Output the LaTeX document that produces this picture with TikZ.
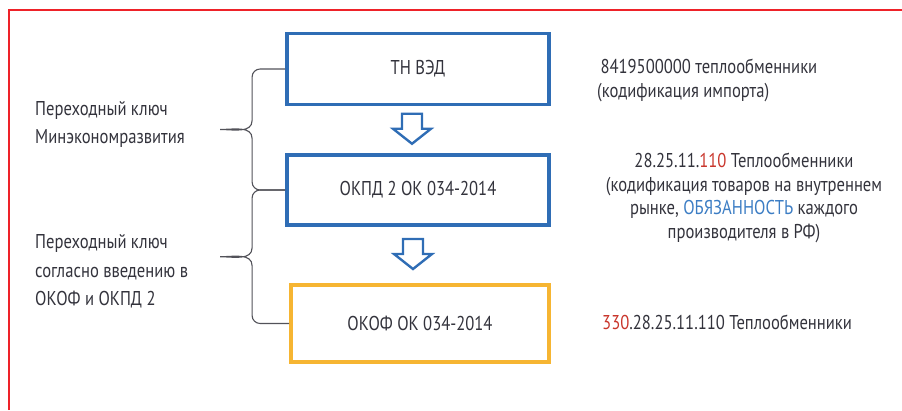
\documentclass[tikz,border=0pt]{standalone}
\usepackage{fontspec}
\setmainfont{PT Sans}[FakeStretch = 0.83]
\usetikzlibrary{calc}

\definecolor{frame}{HTML}{EE2229}
\definecolor{boxblue}{HTML}{2F6DB5}
\definecolor{boxyellow}{HTML}{F6B532}
\definecolor{txt}{HTML}{33333C}
\definecolor{codered}{HTML}{C9362C}
\definecolor{codeblue}{HTML}{3C7DC4}

\tikzset{
    box/.style = {draw, line width = 3.8pt, minimum width = 262, minimum height = 71, inner sep = 0pt, text = txt},
    bluebox/.style = {box, draw = boxblue},
    yellowbox/.style = {box, draw = boxyellow, minimum width = 258, minimum height = 77},
    note/.style = {text = txt, inner sep = 0pt, font = \fontsize{20}{23.5}\selectfont},
    keybrace/.style = {draw = txt!85, line width = 1.1pt},
    downarrow/.style = {draw = boxblue, line width = 2.4pt, line join = miter}
}

\begin{document}
\begin{tikzpicture}[x = 1pt, y = 1pt, font = \fontsize{20}{23.5}\selectfont]
    \useasboundingbox (0, 0) rectangle (902, 410);
    \draw[frame, line width = 2.2pt] (9, 0) -- (9, 400) -- (902, 400);

    \node[bluebox] (tnved) at (418, 341) {ТН ВЭД};
    \node[bluebox, minimum height = 70] (okpd) at (418, 220) {ОКПД 2 ОК 034-2014};
    \node[yellowbox] (okof) at (420, 86.5) {ОКОФ ОК 034-2014};

    \foreach \a/\b in {tnved/okpd, okpd/okof} {
        \coordinate (m) at ($(\a.south)!0.5!(\b.north) + (-6, 0)$);
        \draw[downarrow] ($(m) + (-10, 16)$) -- ++(20, 0) -- ++(0, -15) -- ++(9, 0)
            -- ($(m) + (0, -14)$) -- ($(m) + (-19, 1)$) -- ++(9, 0) -- cycle;

        \draw[keybrace] let \p1 = (\a.west), \p2 = (\b.west), \n1 = {0.5*(\y1 + \y2)} in
            (\p1) -- (\x1 - 25, \y1) to[out = 180, in = 90] (\x1 - 33, \y1 - 8)
            -- (\x1 - 33, \n1 + 9) to[out = -90, in = 0] (\x1 - 65, \n1)
            to[out = 0, in = 90] (\x1 - 33, \n1 - 9)
            -- (\x1 - 33, \y2 + 8) to[out = -90, in = 180] (\x1 - 25, \y2) -- (\p2);
    }

    \node[note, anchor = west, align = left, font = \fontsize{20}{28}\selectfont] (keyone) at (35, 286)
        {Переходный ключ\\Минэкономразвития};
    \node[note, anchor = west, align = left, font = \fontsize{20}{28.5}\selectfont] (keytwo) at (35, 138.5)
        {Переходный ключ\\согласно введению в\\ОКОФ и ОКПД 2};

    \node[note, anchor = west, align = left] (import) at (597, 329.5)
        {\,8419500000 теплообменники\\(кодификация импорта)};
    \node[note, align = center] (market) at (744, 212)
        {28.25.11.{\color{codered}110} Теплообменники\\(кодификация товаров на внутреннем\\рынке, {\color{codeblue}ОБЯЗАННОСТЬ} каждого\\производителя в РФ)};
    \node[note, anchor = west] (fixed) at (602, 88)
        {{\color{codered}330}.28.25.11.110 Теплообменники};
\end{tikzpicture}
\end{document}
